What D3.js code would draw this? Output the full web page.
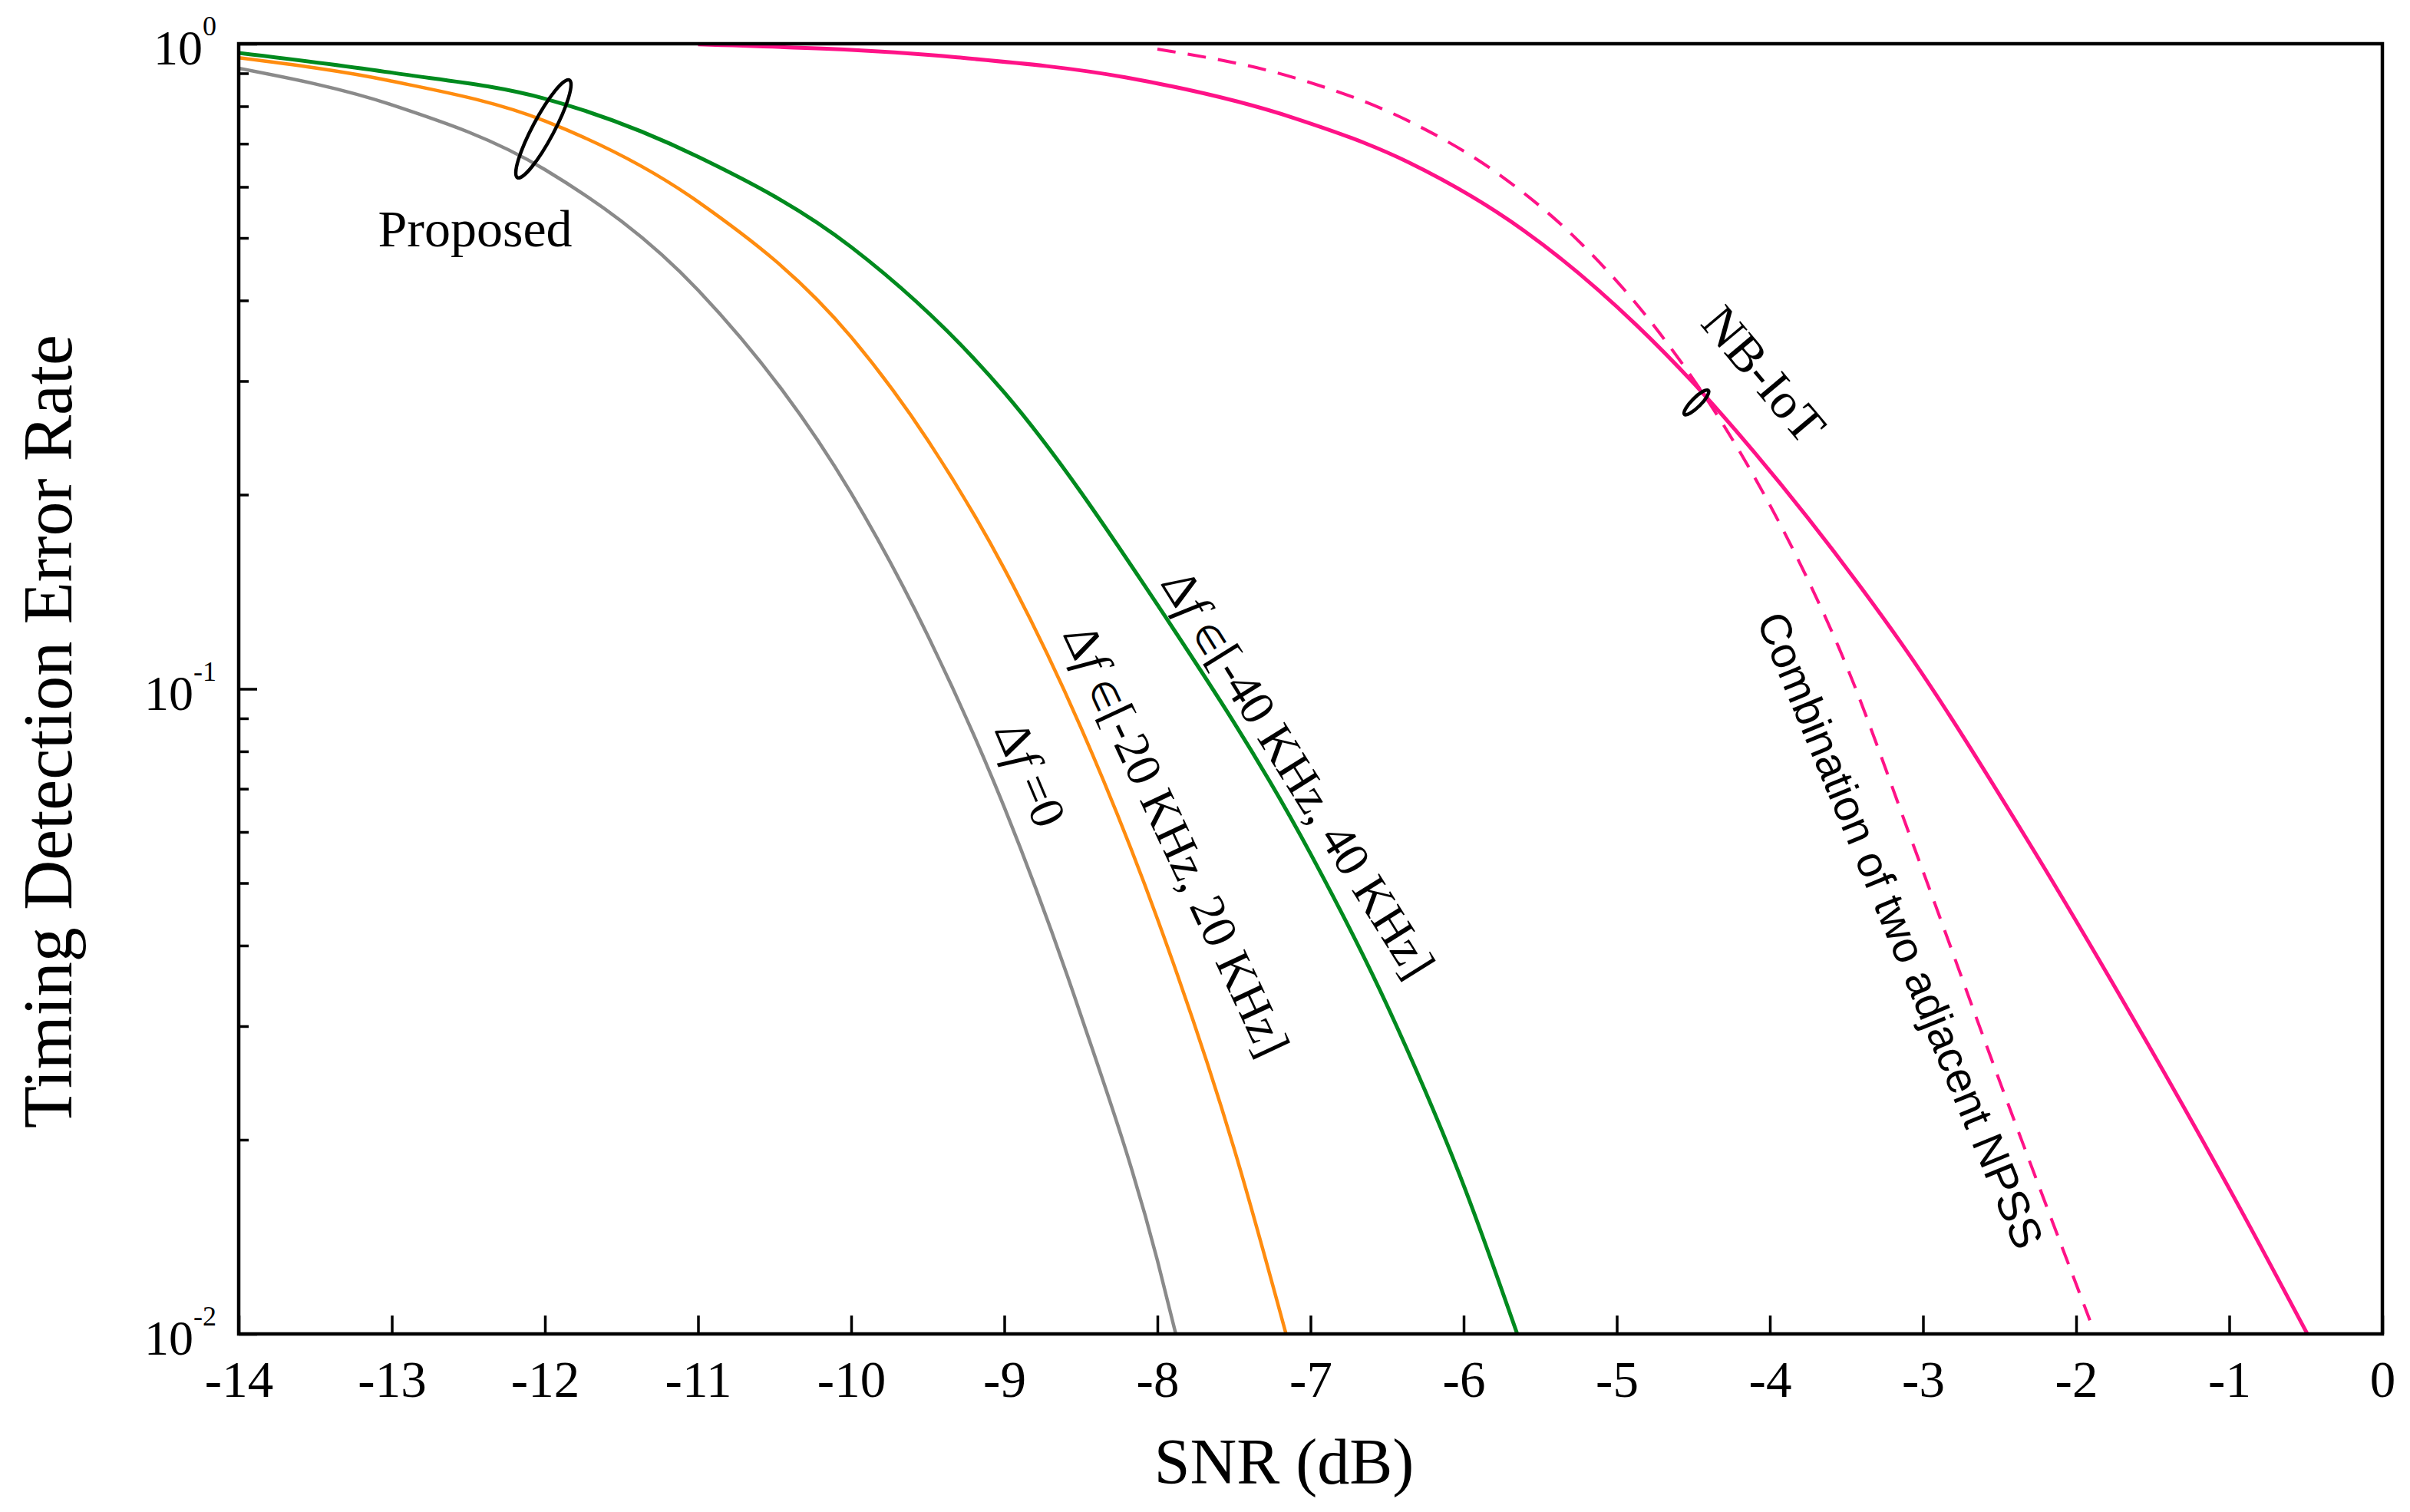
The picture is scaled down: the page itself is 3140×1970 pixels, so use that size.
<!DOCTYPE html>
<html>
<head>
<meta charset="utf-8">
<script src="https://cdn.jsdelivr.net/npm/d3@7"></script>
<style>
  body { margin: 0; background: #fff; }
  text { font-family: "Liberation Serif", "Times New Roman", serif; fill: #000; }
</style>
</head>
<body>
<svg id="svg"></svg>
<script>
/**
 * CONSTANTS AND GLOBALS
 * */
const width = 3140,
  height = 1970,
  margin = { top: 57, bottom: 232, left: 311, right: 36 };

// x ticks (SNR, dB)
const xTicks = [-14, -13, -12, -11, -10, -9, -8, -7, -6, -5, -4, -3, -2, -1, 0];
const yMajor = [1, 0.1, 0.01];
const yMajorExp = ["0", "-1", "-2"];
const yMinor = [0.02, 0.03, 0.04, 0.05, 0.06, 0.07, 0.08, 0.09, 0.2, 0.3, 0.4, 0.5, 0.6, 0.7, 0.8, 0.9];

// proposed, delta f = 0
const snrGray = [-14, -13, -12, -11, -10, -9.5, -9, -8.5, -8, -7.88];
const errGray = [0.916, 0.804, 0.638, 0.415, 0.201, 0.121, 0.0655, 0.0312, 0.013, 0.01];

// proposed, delta f in [-20, 20] KHz
const snrOrange = [-14, -13, -12, -11, -10, -9.5, -9, -8.5, -8, -7.5, -7.16];
const errOrange = [0.951, 0.875, 0.759, 0.569, 0.351, 0.243, 0.1535, 0.0871, 0.044, 0.0194, 0.01];

// proposed, delta f in [-40, 40] KHz
const snrGreen = [-14, -13, -12, -11, -10, -9, -8, -7, -6.5, -6, -5.65];
const errGreen = [0.968, 0.902, 0.822, 0.668, 0.484, 0.288, 0.135, 0.0555, 0.0323, 0.017, 0.01];

// NB-IoT
const snrNB = [-11, -9.32, -8.21, -7.1, -6.36, -5.61, -4.87, -4.5, -4.13, -3.39, -3.14, -2.33, -1.63, -0.97, -0.49];
const errNB = [0.998, 0.953, 0.887, 0.766, 0.655, 0.514, 0.366, 0.298, 0.237, 0.142, 0.1175, 0.0589, 0.0309, 0.0163, 0.01];

// combination of two adjacent NPSS (dashed)
const snrComb = [-8, -7.1, -6.36, -5.76, -5.24, -4.72, -4.13, -3.76, -3.55, -3.03, -2.49, -1.91];
const errComb = [0.981, 0.885, 0.759, 0.625, 0.492, 0.356, 0.219, 0.149, 0.1159, 0.0545, 0.0243, 0.0105];

let svg, xScale, yScale;

function init() {
  svg = d3.select("#svg")
    .attr("width", width)
    .attr("height", height);

  xScale = d3.scaleLinear()
    .domain([-14, 0])
    .range([margin.left, width - margin.right]);

  yScale = d3.scaleLog()
    .domain([0.01, 1])
    .range([height - margin.bottom, margin.top]);

  svg.append("clipPath")
    .attr("id", "plotClip")
    .append("rect")
    .attr("x", margin.left)
    .attr("y", margin.top)
    .attr("width", width - margin.left - margin.right)
    .attr("height", height - margin.bottom - margin.top);

  drawLines();
  drawAxes();
  drawNotes();
}

function drawAxes() {
  const bottom = height - margin.bottom;

  // x axis, ticks pointing in
  const xAxis = svg.append("g")
    .attr("transform", `translate(0,${bottom})`)
    .call(d3.axisBottom(xScale)
      .tickValues(xTicks)
      .tickSize(-24)
      .tickPadding(34)
      .tickFormat(d => String(d)));
  xAxis.select(".domain").remove();
  xAxis.selectAll("line").attr("stroke", "#000").attr("stroke-width", 3.5);
  xAxis.selectAll("text")
    .attr("font-size", 67)
    .attr("fill", "#000");

  // y axis minor ticks
  const yMin = svg.append("g")
    .attr("transform", `translate(${margin.left},0)`)
    .call(d3.axisLeft(yScale).tickValues(yMinor).tickSize(-13).tickFormat(""));
  yMin.select(".domain").remove();
  yMin.selectAll("line").attr("stroke", "#000").attr("stroke-width", 3.5);

  // y axis major ticks
  const yMaj = svg.append("g")
    .attr("transform", `translate(${margin.left},0)`)
    .call(d3.axisLeft(yScale).tickValues(yMajor).tickSize(-24).tickFormat(""));
  yMaj.select(".domain").remove();
  yMaj.selectAll("line").attr("stroke", "#000").attr("stroke-width", 3.5);

  // 10^n labels
  const lab = svg.append("g").selectAll("text")
    .data(yMajor)
    .join("text")
    .attr("x", margin.left - 29)
    .attr("y", d => yScale(d) + 27)
    .attr("text-anchor", "end")
    .attr("font-size", 64);
  lab.append("tspan").text("10");
  lab.append("tspan")
    .attr("dy", -38)
    .attr("font-size", 36)
    .text((d, i) => yMajorExp[i]);

  // frame
  svg.append("rect")
    .attr("x", margin.left)
    .attr("y", margin.top)
    .attr("width", width - margin.left - margin.right)
    .attr("height", bottom - margin.top)
    .attr("fill", "none")
    .attr("stroke", "#000")
    .attr("stroke-width", 4.5);

  // axis titles
  svg.append("text")
    .attr("x", 1673)
    .attr("y", 1933)
    .attr("text-anchor", "middle")
    .attr("font-size", 84)
    .text("SNR (dB)");

  svg.append("text")
    .attr("transform", "translate(93,953) rotate(-90)")
    .attr("text-anchor", "middle")
    .attr("font-size", 90)
    .text("Timing Detection Error Rate");
}

function drawLines() {
  const line = d3.line()
    .x(d => xScale(d[0]))
    .y(d => yScale(d[1]))
    .curve(d3.curveMonotoneX);

  const series = [
    { x: snrGray, y: errGray, color: "#8a8a8a", w: 4.5, dash: null },
    { x: snrOrange, y: errOrange, color: "#ff8c0f", w: 4.5, dash: null },
    { x: snrGreen, y: errGreen, color: "#008a1e", w: 5, dash: null },
    { x: snrNB, y: errNB, color: "#ff1287", w: 5, dash: null },
    { x: snrComb, y: errComb, color: "#ff1287", w: 4, dash: "24 16" },
  ];

  svg.append("g")
    .attr("clip-path", "url(#plotClip)")
    .selectAll("path")
    .data(series)
    .join("path")
    .attr("d", s => line(s.x.map((v, i) => [v, s.y[i]])))
    .attr("fill", "none")
    .attr("stroke", s => s.color)
    .attr("stroke-width", s => s.w)
    .attr("stroke-dasharray", s => s.dash);
}

function drawNotes() {
  const g = svg.append("g");

  // ellipse around the proposed curves
  g.append("ellipse")
    .attr("transform", `translate(${xScale(-12.01)},${yScale(0.738)}) rotate(28)`)
    .attr("rx", 14).attr("ry", 72)
    .attr("fill", "none").attr("stroke", "#000").attr("stroke-width", 4.5);

  g.append("text")
    .attr("x", xScale(-12.456))
    .attr("y", yScale(0.485))
    .attr("text-anchor", "middle")
    .attr("font-size", 68)
    .text("Proposed");

  // small ellipse on NB-IoT curves
  g.append("ellipse")
    .attr("transform", `translate(${xScale(-4.48)},${yScale(0.278)}) rotate(45)`)
    .attr("rx", 6).attr("ry", 22)
    .attr("fill", "none").attr("stroke", "#000").attr("stroke-width", 4.5);

  g.append("text")
    .attr("transform", `translate(${xScale(-4.461)},${yScale(0.368)}) rotate(50)`)
    .attr("font-size", 66)
    .text("NB-IoT");

  // delta f labels along the curves
  const dfLabels = [
    { snr: -9.068, err: 0.0864, angle: 67, elem: "", rest: "=0" },
    { snr: -8.622, err: 0.1216, angle: 65, elem: "\u2208", rest: "[-20 KHz, 20 KHz]" },
    { snr: -7.985, err: 0.1458, angle: 58, elem: "\u2208", rest: "[-40 KHz, 40 KHz]" },
  ];
  const dl = g.selectAll(".df")
    .data(dfLabels)
    .join("text")
    .attr("class", "df")
    .attr("transform", d => `translate(${xScale(d.snr)},${yScale(d.err)}) rotate(${d.angle})`)
    .attr("font-size", 64);
  dl.append("tspan").text("\u0394");
  dl.append("tspan").style("font-style", "italic").text("f ");
  dl.append("tspan").attr("font-size", 46).text(d => d.elem);
  dl.append("tspan").text(d => d.rest);

  g.append("text")
    .attr("transform", `translate(${xScale(-4.09)},${yScale(0.1278)}) rotate(67.6)`)
    .style("font-family", "'Liberation Sans', Arial, sans-serif")
    .attr("font-size", 57)
    .text("Combination of two adjacent NPSS");
}

init();
</script>
</body>
</html>
